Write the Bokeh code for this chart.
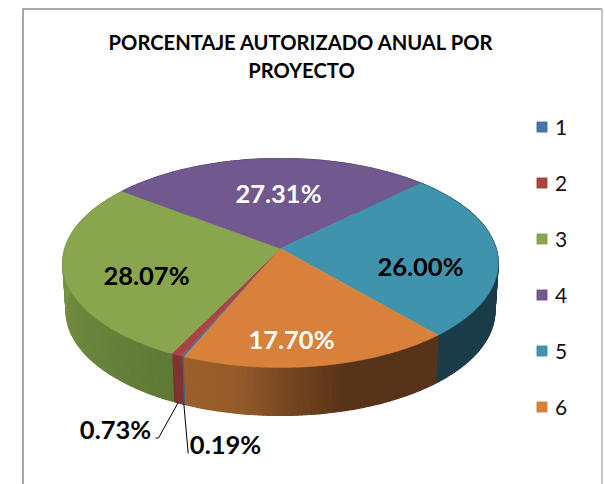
import numpy as np
from bokeh.core.properties import value
from bokeh.embed import file_html
from bokeh.models import Legend, LegendItem, Range1d
from bokeh.plotting import figure
from bokeh.resources import INLINE

# --- data ---
categories = ["1", "2", "3", "4", "5", "6"]
percentages = [0.19, 0.73, 28.07, 27.31, 26.00, 17.70]
title_lines = ["PORCENTAJE AUTORIZADO ANUAL POR", "PROYECTO"]

# --- style ---
top_colors = ["#4674a8", "#a94442", "#89a54e", "#71588f", "#3f93ad", "#d7813b"]
# side gradient stops per slice, in order of increasing clockwise angle (start -> end of the slice)
side_stops = [
    ["#3b618f", "#3b618f"],
    ["#7f3333", "#7f3333"],
    ["#5f7a36", "#6b863c", "#7b9448", "#7d9749"],
    ["#5a4672", "#5a4672"],
    ["#1b3c49", "#1b3c49"],
    ["#57331a", "#57331a", "#57331a", "#74451f", "#945b2a", "#9b602c"],
]
label_x = [225, 115, 146, 278, 420, 291]
label_y = [443, 428, 274, 192, 265, 338]
label_colors = ["#000000", "#000000", "#000000", "#ffffff", "#000000", "#ffffff"]

# pie geometry in page pixels, perspective projection of a disc
APEX_X, APEX_Y = 280.0, 248.0
A, B, K = 215.6, 102.5, 0.1387
DEPTH, BOTTOM_SCALE = 48.0, 0.985
START_ANGLE = 202.9


def rim(theta_deg, scale=1.0, drop=0.0):
    t = np.radians(theta_deg)
    X, Y = np.sin(t), np.cos(t)
    d = 1 + K * Y
    return APEX_X + scale * A * X / d, APEX_Y - B * Y / d + drop


def hex_rgb(h):
    return np.array([int(h[i:i + 2], 16) for i in (1, 3, 5)], dtype=float)


def ramp(stops, f):
    pos = f * (len(stops) - 1)
    i = min(int(pos), len(stops) - 2)
    c = hex_rgb(stops[i]) * (1 - (pos - i)) + hex_rgb(stops[i + 1]) * (pos - i)
    return "#%02x%02x%02x" % tuple(int(round(v)) for v in c)


W, H = 605, 484
p = figure(width=W, height=H, output_backend="svg", toolbar_location=None,
           x_range=Range1d(0, W), y_range=Range1d(H, 0),
           min_border=0, outline_line_color=None, background_fill_color="#ffffff",
           border_fill_color="#ffffff")
p.xaxis.visible = False
p.yaxis.visible = False
p.grid.visible = False

# frame of the chart
p.line([22.5, 22.5, 601], [484, 8.5, 8.5], line_color="#8a8a8a", line_width=1.5)
p.line([601.5, 601.5], [8, 484], line_color="#c4c4c4", line_width=2)

edges = START_ANGLE + np.concatenate([[0], np.cumsum(percentages)]) * 3.6

# sides
for k in range(len(percentages)):
    a0, a1 = edges[k], edges[k + 1]
    n = max(2, int(np.ceil(a1 - a0)))
    ts = np.linspace(a0, a1, n + 1)
    xs, ys, cs = [], [], []
    for j in range(n):
        x0, y0 = rim(ts[j])
        x1, y1 = rim(ts[j + 1])
        x2, y2 = rim(ts[j + 1], BOTTOM_SCALE, DEPTH)
        x3, y3 = rim(ts[j], BOTTOM_SCALE, DEPTH)
        xs.append([x0, x1, x2, x3])
        ys.append([y0, y1, y2, y3])
        cs.append(ramp(side_stops[k], (j + 0.5) / n))
    p.patches(xs, ys, fill_color=cs, line_color=cs, line_width=1.2)

# top surface
tops = []
for k in range(len(percentages)):
    ts = np.linspace(edges[k], edges[k + 1], max(2, int(np.ceil(edges[k + 1] - edges[k]))) + 1)
    rx, ry = rim(ts)
    r = p.patch(np.r_[APEX_X, rx], np.r_[APEX_Y, ry], fill_color=top_colors[k],
                line_color=top_colors[k], line_width=0.5)
    tops.append(r)

# leader lines
p.line([155, 158, 177.7], [437.5, 437.5, 402], line_color="#000000", line_width=1)
p.line([187.7, 183.3], [453, 403], line_color="#000000", line_width=1)

# data labels
p.text(label_x, label_y, text=["%.2f%%" % v for v in percentages], text_color=label_colors,
       text_font=value("Lato"), text_font_style="bold", text_font_size="25.5px",
       text_align="center", text_baseline="middle")

# title
p.text([301, 301], [41, 69], text=title_lines, text_color="#000000",
       text_font=value("Lato"), text_font_style="bold", text_font_size="20.2px",
       text_align="center", text_baseline="middle")

legend = Legend(items=[LegendItem(label=c, renderers=[r]) for c, r in zip(categories, tops)],
                location=(535, 65), orientation="vertical", padding=0, margin=0, spacing=31,
                glyph_width=13, glyph_height=13, label_standoff=7, label_height=20,
                label_text_font="Lato", label_text_font_size="21px", label_text_color="#111111",
                border_line_color=None, background_fill_alpha=0)
p.add_layout(legend)

open("out.html", "w").write(file_html(p, INLINE))
